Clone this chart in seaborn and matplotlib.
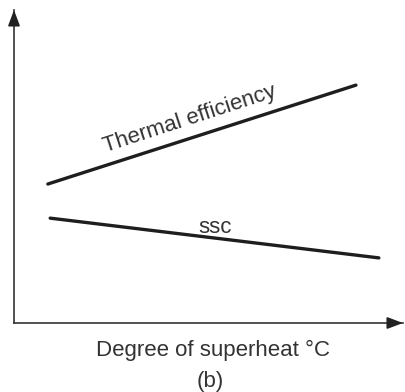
import matplotlib
matplotlib.use("Agg")
import matplotlib.pyplot as plt
import seaborn as sns
import pandas as pd

sns.set_theme(style="white")
plt.rcParams["font.family"] = ["Liberation Sans", "DejaVu Sans"]

# Schematic trends versus degree of superheat (arbitrary units)
superheat = [8.7, 87.9]
thermal_efficiency = [44.4, 76.0]
superheat_ssc = [9.3, 93.8]
ssc = [33.5, 20.8]

df_eff = pd.DataFrame({"superheat": superheat, "value": thermal_efficiency})
df_ssc = pd.DataFrame({"superheat": superheat_ssc, "value": ssc})

W, H = 406, 392
fig = plt.figure(figsize=(W / 100, H / 100), dpi=100)
left, right, bottom, top = 14, 403, 323, 10
ax = fig.add_axes([left / W, 1 - bottom / H, (right - left) / W, (bottom - top) / H])

line_color = "#1e1e1e"
sns.lineplot(data=df_eff, x="superheat", y="value", ax=ax, color=line_color, lw=2.4)
sns.lineplot(data=df_ssc, x="superheat", y="value", ax=ax, color=line_color, lw=2.4)

ax.set_xlim(0, 100)
ax.set_ylim(0, 100)
ax.set_xticks([])
ax.set_yticks([])
ax.set_xlabel("")
ax.set_ylabel("")
for side in ("top", "right"):
    ax.spines[side].set_visible(False)
for side in ("left", "bottom"):
    ax.spines[side].set_color("#333333")
    ax.spines[side].set_linewidth(1.2)

# Arrow heads at the axis ends
arrow_style = dict(arrowstyle="-|>,head_length=0.8,head_width=0.3",
                   color="#222222", lw=1.2, shrinkA=0, shrinkB=0)
ax.annotate("", xy=(1.0, 0), xytext=(0.96, 0), xycoords="axes fraction",
            arrowprops=arrow_style, annotation_clip=False)
ax.annotate("", xy=(0, 1.0), xytext=(0, 0.96), xycoords="axes fraction",
            arrowprops=arrow_style, annotation_clip=False)

txt_color = "#333333"
fs = 16
ax.text(45.2, 65.0, "Thermal efficiency", rotation=18, rotation_mode="anchor",
        ha="center", va="center", fontsize=fs, color=txt_color)
ax.text(51.7, 30.4, "ssc", ha="center", va="center", fontsize=fs, color=txt_color)

fig.text(213 / W, 1 - 350 / H, "Degree of superheat °C", ha="center", va="center",
         fontsize=fs, color=txt_color)
fig.text(210 / W, 1 - 381 / H, "(b)", ha="center", va="center", fontsize=fs, color=txt_color)

fig.savefig("out.png", dpi=100, facecolor="white")
